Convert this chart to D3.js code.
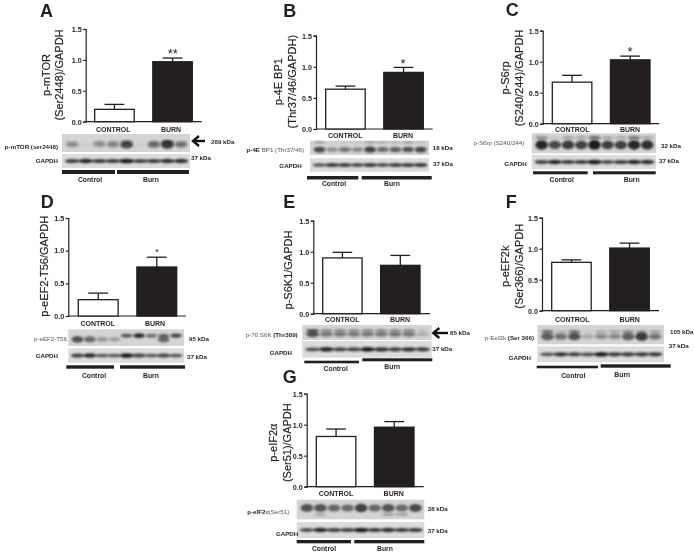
<!DOCTYPE html>
<html><head><meta charset="utf-8">
<script src="https://cdnjs.cloudflare.com/ajax/libs/d3/7.8.5/d3.min.js"></script>
<style>html,body{margin:0;background:#fff}svg{display:block;filter:blur(.35px)}text{font-family:"Liberation Sans",Arial,sans-serif}</style>
</head><body><div id="c"></div>
<script>
// ---- data
const panelIds = ["A","B","C","D","E","F","G"];
const groups = ["CONTROL","BURN"];
const yTicks = [0,0.5,1,1.5];
const controlMeans = [0.20,0.64,0.67,0.25,0.90,0.78,0.81];
const controlTops  = [0.28,0.69,0.78,0.35,0.99,0.82,0.93];
const burnMeans    = [0.97,0.91,1.03,0.75,0.78,1.01,0.96];
const burnTops     = [1.03,0.99,1.09,0.90,0.94,1.09,1.05];
const stars = ["**","*","*","*","","",""];
const yTitles = [["p-mTOR","(Ser2448)/GAPDH"],["p-4E BP1","(Thr37/46/GAPDH)"],["p-S6rp","(S240/244)/GAPDH"],["p-eEF2-T56/GAPDH"],["p-S6K1/GAPDH"],["p-eEF2k","(Ser366)/GAPDH"],["p-eIF2|α","(Ser51)/GAPDH"]];
const blotNames = [
 [["p-mTOR (ser2448)",1]],
 [["p-4E",1],[" BP1 (Thr37/46)",0]],
 [["p-S6rp (S240/244)",0]],
 [["p-eEF2-T56",0]],
 [["p-70 S6K ",0],["(Thr389)",1]],
 [["p-Eef2k ",0],["(Ser 366)",1]],
 [["p-eIF2",1],["α",2],["(Ser51)",0]]];
const kDaTop = ["289 kDa","18 kDa","32 kDa","95 kDa","85 kDa","105 kDa","38 kDa"];
const kDaGapdh = "37 kDa";
const lanes = d3.range(9);
const mainBands = [
 [.38,.05,.35,.4,.75,.05,.55,.85,.5],
 [.75,.4,.55,.45,.8,.6,.65,.7,.75],
 [.95,.75,.85,.8,1,.8,.8,.95,.9],
 [.7,.6,.35,.3,0,0,0,.6,0],
 [.7,.5,.5,.5,.5,.5,.5,.5,.25],
 [.65,.55,.7,.25,.4,.4,.65,.85,.5],
 [.7,.7,.6,.6,.8,.6,.7,.6,.75]];
const extraBands = [
 [.2,0,.3,.3,.5,0,.3,.7,.3],
 [.3,.05,.1,.1,.3,.25,.2,.3,.15],
 [.4,.1,.3,.3,.55,.3,.25,.5,.3],
 [0,0,0,0,.7,.95,.6,.6,.8],
 [.7,.45,.45,.45,.45,.45,.45,.45,.15],
 [.55,.2,.5,.05,.25,.3,.4,.3,.3],
 [0,.25,0,0,0,0,.3,.3,0]];
const gapdhBands = [
 [.8,.95,.85,.85,1,.8,.85,.9,.9],
 [.7,.85,.8,.75,.85,.75,.8,.8,.85],
 [.8,.95,.85,.85,1,.75,.85,.95,.9],
 [.8,.95,.7,.7,1,.8,.7,.8,.7],
 [.75,.95,.8,.8,1,.9,.85,.9,.85],
 [.7,.9,.8,.75,1,.85,.85,.85,.85],
 [.75,.95,.8,.8,1,.85,.9,.85,.85]];

// ---- layout (separate from the values)
const layout = [
 {letter:[40,16.7],axis:85.7,y15:29,y0:121.7,end:201.7,bars:[94.7,192.3],gy:129.3,gx:[113.3,171],star:[172.7,53,13],
  tx:[[45.7,75],[59.3,75]],top:[62,134,128,18],bot:[62,154,128,14],
  b1:[62,170,53,4],b2:[117,170,72,4],lc:[90,179.5],lb:[151,179.5],
  nm:[58,147],gp:[58,160.5],kt:[211,142],kg:[191,158],mainY:.6,extraY:.45,arrow:[205,193,141]},
 {letter:[283.3,16.7],axis:316,y15:35.7,y0:129,end:432.7,bars:[325.7,423.3],gy:136,gx:[345.3,403],star:[403,63.5,13],
  tx:[[277.7,81.7],[291.7,81.7]],top:[310,140.7,119,14.3],bot:[310,158.3,119,13.4],
  b1:[307,176,51.3,3.5],b2:[361.7,176,70,3.5],lc:[334,184],lb:[392,184],
  nm:[304,150],gp:[301.7,165.7],kt:[432.7,148],kg:[433,163.7],mainY:.62,extraY:.12},
 {letter:[505.7,16],axis:542.7,y15:30.7,y0:123.7,end:659.3,bars:[552.3,650],gy:129.3,gx:[572.3,630],star:[630,51,13],
  tx:[[505,78],[519,78]],top:[531.7,133.3,124.3,20],bot:[531.7,155,124.3,14],
  b1:[533,171.3,54.7,3],b2:[593,171.3,62.7,3],lc:[561.7,179.7],lb:[631.7,179.7],
  nm:[524.3,142.7],gp:[526.7,164.3],kt:[661,145.7],kg:[659,161.3],mainY:.58,extraY:.22},
 {letter:[40.7,207.7],axis:68.3,y15:218,y0:316,end:186,bars:[78.3,176.7],gy:323.7,gx:[97.7,155],star:[157,252,9],
  tx:[[44.3,266.3]],top:[68.3,329.3,115.7,16.7],bot:[68.3,348.3,115.7,14.4],
  b1:[66.3,365.3,47.7,3.4],b2:[120,365.3,65,3.4],lc:[94,376],lb:[151,376],
  nm:[67,338.7],gp:[58,356],kt:[189,338.7],kg:[187,357.3],mainY:.6,extraY:.38},
 {letter:[283.3,208.3],axis:313.3,y15:220.7,y0:313.7,end:430,bars:[322.7,420],gy:320,gx:[342.3,400],star:null,
  tx:[[288.3,270]],top:[302.3,325,129.4,15],bot:[302.3,341,129.4,16.7],
  b1:[304.3,360.7,54.7,2.6],b2:[362.3,358.3,70,3],lc:[335.7,368.3],lb:[392.3,366.3],
  nm:[297.7,334.7],gp:[292,352.7],kt:[450,332.7],kg:[432.3,348.7],mainY:.62,extraY:.38,arrow:[448,433.3,333]},
 {letter:[505.7,207.7],axis:542,y15:217.7,y0:310.7,end:659,bars:[551.7,649.3],gy:319.3,gx:[572.3,629.7],star:null,
  tx:[[505,266.3],[519,266.3]],top:[537.3,325,126.7,19.3],bot:[537.3,346.3,126.7,16],
  b1:[536.7,365.7,61.3,2.6],b2:[600.7,364.3,70,3.4],lc:[573.3,376],lb:[622.3,375],
  nm:[534,338.3],gp:[531,358],kt:[670,332],kg:[668.7,346.3],mainY:.6,extraY:.35},
 {letter:[282.7,383.3],axis:306.7,y15:393.7,y0:486.7,end:423.7,bars:[316.3,414],gy:494,gx:[336,393.7],star:null,
  tx:[[272.7,442.7],[286.7,442.7]],top:[296.7,499.7,127.6,19.6],bot:[296.7,522,127.6,16],
  b1:[296.7,540,54.3,3.3],b2:[354.3,540,70,3.3],lc:[324,549],lb:[385,549],
  nm:[289.3,512.3],gp:[298.3,534],kt:[427.7,508.7],kg:[427.7,530.7],mainY:.42,extraY:.75}
];
const ink = "#231f20";

const svg = d3.select("#c").append("svg").attr("width",694).attr("height",554);
const defs = svg.append("defs");
const blur = defs.append("filter").attr("id","soft").attr("x","-30%").attr("y","-60%").attr("width","160%").attr("height","220%");
blur.append("feGaussianBlur").attr("stdDeviation","1.0 0.8");

function label(x,y,s,size,weight,anchor,fill){
  return svg.append("text").attr("x",x).attr("y",y).attr("dy","0.35em").text(s)
    .attr("font-size",size).attr("font-weight",weight||"normal").attr("text-anchor",anchor||"middle").attr("fill",fill||ink);
}
function blotRow(rect,vals,rowY,thick,spread){
  const [x,y,w,h]=rect;
  const lx=d3.scalePoint().domain(lanes).range([x+w*.08,x+w*.93]);
  const ly=d3.scaleLinear().range([y,y+h]);
  svg.append("g").attr("filter","url(#soft)").selectAll("ellipse").data(lanes).join("ellipse")
    .attr("cx",l=>lx(l)).attr("cy",ly(rowY))
    .attr("rx",w*spread).attr("ry",l=>Math.max(.6,thick*(.45+vals[l])))
    .attr("fill","#1c1c1c").attr("opacity",l=>vals[l]);
}
function arrow(x0,x1,y){
  const g=svg.append("g").attr("fill","none").attr("stroke","#111").attr("stroke-width",2.4);
  g.append("line").attr("x1",x0).attr("x2",x1+1).attr("y1",y).attr("y2",y);
  g.append("path").attr("d",`M${x1+6},${y-5}L${x1},${y}L${x1+6},${y+5}`);
}

panelIds.forEach((id,i)=>{
  const L=layout[i];
  const y=d3.scaleLinear().domain([0,1.5]).range([L.y0,L.y15]);
  const x=d3.scaleBand().domain(groups).range(L.bars).paddingInner(.32).paddingOuter(0);
  svg.append("text").attr("x",L.letter[0]).attr("y",L.letter[1]).text(id)
    .attr("font-size",18).attr("font-weight","bold").attr("fill",ink);

  // y-axis
  const ax=svg.append("g").attr("transform",`translate(${L.axis},0)`)
    .call(d3.axisLeft(y).tickValues(yTicks).tickFormat(d3.format(".1f")).tickSize(2.5).tickPadding(1.5));
  ax.selectAll("path,line").attr("stroke",ink).attr("stroke-width",1.2);
  ax.selectAll("text").attr("font-size",7.2).attr("font-weight","bold").attr("fill",ink);
  svg.append("line").attr("x1",L.axis).attr("x2",L.end).attr("y1",L.y0).attr("y2",L.y0).attr("stroke",ink).attr("stroke-width",1.2);

  // bars with error bars
  const rows=[{g:groups[0],m:controlMeans[i],t:controlTops[i],f:"#fff"},{g:groups[1],m:burnMeans[i],t:burnTops[i],f:ink}];
  const bw=x.bandwidth();
  const gb=svg.append("g").attr("stroke",ink).attr("stroke-width",1.3);
  gb.selectAll("line.s").data(rows).join("line").attr("x1",d=>x(d.g)+bw/2).attr("x2",d=>x(d.g)+bw/2).attr("y1",d=>y(d.m)).attr("y2",d=>y(d.t));
  gb.selectAll("line.c").data(rows).join("line").attr("x1",d=>x(d.g)+bw*.25).attr("x2",d=>x(d.g)+bw*.75).attr("y1",d=>y(d.t)).attr("y2",d=>y(d.t));
  gb.selectAll("rect").data(rows).join("rect").attr("x",d=>x(d.g)).attr("width",bw).attr("y",d=>y(d.m)).attr("height",d=>y(0)-y(d.m)).attr("fill",d=>d.f);

  groups.forEach((g,k)=>label(L.gx[k],L.gy,g,7,"bold"));
  if(stars[i]) label(L.star[0],L.star[1],stars[i],L.star[2],"normal");

  // y titles
  yTitles[i].forEach((t,k)=>{
    const [tx,ty]=L.tx[k];
    const el=svg.append("text").attr("transform",`translate(${tx+4},${ty}) rotate(-90)`)
      .attr("text-anchor","middle").attr("font-size",11).attr("fill",ink)
      .attr("stroke",ink).attr("stroke-width",.2);
    t.split("|").forEach((part,m)=>{
      const sp=el.append("tspan").text(part);
      if(m===1) sp.style("font-family",'"Liberation Serif",serif').attr("font-size",12);
    });
  });

  // blot strips
  [L.top,L.bot].forEach((r,k)=>svg.append("rect").attr("x",r[0]).attr("y",r[1]).attr("width",r[2]).attr("height",r[3]).attr("fill",k?"#dcdcdc":"#d4d4d4"));
  blotRow(L.top,extraBands[i],L.extraY,L.top[3]*.1,.05);
  blotRow(L.top,mainBands[i],L.mainY,L.top[3]*.17,.05);
  blotRow(L.bot,gapdhBands[i],.5,1.6,.058);

  // blot labels
  const nm=svg.append("text").attr("x",L.nm[0]).attr("y",L.nm[1]).attr("dy","0.35em").attr("text-anchor","end").attr("font-size",6.2);
  blotNames[i].forEach(([s,st])=>{
    const sp=nm.append("tspan").text(s);
    sp.attr("font-weight",st===1?"bold":"normal").attr("fill",st===1?ink:"#555");
    if(st===2) sp.style("font-family",'"Liberation Serif",serif').attr("fill",ink);
  });
  label(L.gp[0],L.gp[1],"GAPDH",6.2,"bold","end");
  label(L.kt[0],L.kt[1],kDaTop[i],6.2,"bold","start");
  label(L.kg[0],L.kg[1],kDaGapdh,6.2,"bold","start");
  if(L.arrow) arrow(...L.arrow);

  // group brackets
  [L.b1,L.b2].forEach(r=>svg.append("rect").attr("x",r[0]).attr("y",r[1]).attr("width",r[2]).attr("height",r[3]).attr("fill",ink));
  label(L.lc[0],L.lc[1],"Control",6.8,"bold");
  label(L.lb[0],L.lb[1],"Burn",6.8,"bold");
});
</script></body></html>
